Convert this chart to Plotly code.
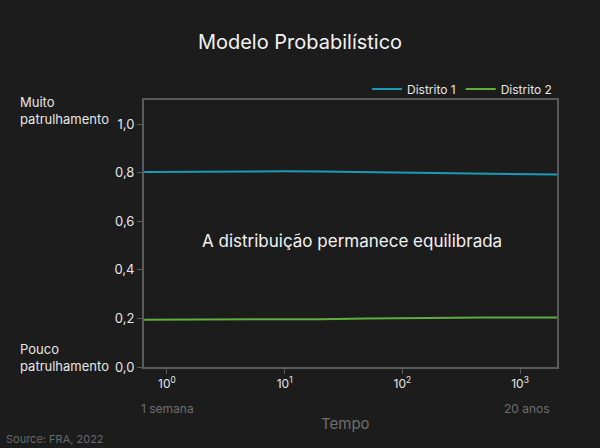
import plotly.graph_objects as go

weeks = [0.64, 1, 2, 5, 10, 20, 50, 100, 200, 500, 1000, 2060]
distrito1 = [0.803, 0.804, 0.805, 0.806, 0.806, 0.805, 0.803, 0.801, 0.799, 0.797, 0.795, 0.793]
distrito2 = [0.195, 0.195, 0.194, 0.194, 0.195, 0.197, 0.200, 0.202, 0.203, 0.204, 0.204, 0.204]
x_tickvals = [1, 10, 100, 1000]
x_ticktext = ["10<sup>0</sup>", "10<sup>1</sup>", "10<sup>2</sup>", "10<sup>3</sup>"]
y_tickvals = [0, 0.2, 0.4, 0.6, 0.8, 1.0]

BG = "#1c1c1c"
FONT = "Inter"
AXIS = "#5a5a5a"

fig = go.Figure()
fig.add_trace(go.Scatter(x=weeks, y=distrito1, mode="lines", name="Distrito 1",
                         line=dict(color="#1b9ab8", width=2)))
fig.add_trace(go.Scatter(x=weeks, y=distrito2, mode="lines", name="Distrito 2",
                         line=dict(color="#5fae3e", width=2)))

pl, pr, pt, pb = 144, 557, 100, 367

fig.update_layout(
    width=600, height=448,
    paper_bgcolor=BG, plot_bgcolor=BG,
    margin=dict(l=144, r=43, t=100, b=81),
    font=dict(family=FONT, color="#e6e6e6", size=13),
    separators=",.",
    title=dict(text="Modelo Probabilístico", x=0.5, xanchor="center", y=0.907, yanchor="middle",
               font=dict(size=20, color="#f2f2f2", family=FONT)),
    showlegend=True,
    legend=dict(orientation="h", x=1.0, xanchor="right", y=(pb - 89) / (pb - pt), yanchor="middle",
                font=dict(size=12, color="#e6e6e6"), bgcolor="rgba(0,0,0,0)",
                itemwidth=30),
)
fig.update_xaxes(type="log", range=[-0.195, 3.314], tickvals=x_tickvals, ticktext=x_ticktext,
                 showgrid=False, zeroline=False, showline=True, linecolor=AXIS, linewidth=2,
                 mirror=True, ticks="outside", tickcolor=AXIS, ticklen=5,
                 tickfont=dict(size=12, color="#e6e6e6"))
fig.update_yaxes(range=[0, 1.1], tickvals=y_tickvals, tickformat=".1f",
                 showgrid=False, zeroline=False, showline=True, linecolor=AXIS, linewidth=2,
                 mirror=True, ticks="outside", tickcolor=AXIS, ticklen=5,
                 tickfont=dict(size=13, color="#e6e6e6"))

anns = [
    dict(text="A distribuição permanece equilibrada", x=352, y=241, font=dict(size=17, color="#f2f2f2")),
    dict(text="Muito<br>patrulhamento", x=18, y=110, xanchor="left", align="left",
         font=dict(size=13, color="#e6e6e6")),
    dict(text="Pouco<br>patrulhamento", x=18, y=357, xanchor="left", align="left",
         font=dict(size=13, color="#e6e6e6")),
    dict(text="1 semana", x=167, y=408, font=dict(size=12, color="#6e6e6e")),
    dict(text="20 anos", x=527, y=408, font=dict(size=12, color="#6e6e6e")),
    dict(text="Tempo", x=345, y=423, font=dict(size=15, color="#6e6e6e")),
    dict(text="Source: FRA, 2022", x=4, y=439, xanchor="left", font=dict(size=11, color="#6a6a6a")),
]

final = []
for a in anns:
    a = dict(a)
    a["xref"] = "paper"; a["yref"] = "paper"
    a["x"] = (a["x"] - pl) / (pr - pl)
    a["y"] = (pb - a["y"]) / (pb - pt)
    a.setdefault("xanchor", "center")
    a.setdefault("yanchor", "middle")
    a["showarrow"] = False
    final.append(a)
fig.update_layout(annotations=final)

fig.write_html("out.html")
